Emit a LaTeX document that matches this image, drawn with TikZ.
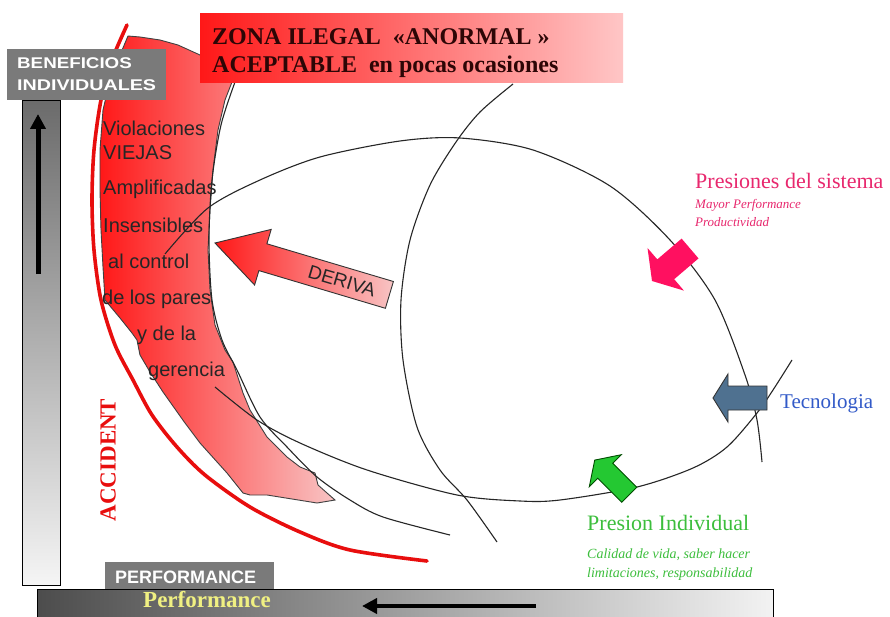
\documentclass[tikz,border=0pt]{standalone}
\usepackage{fontspec}
\setmainfont{Liberation Serif}
\setsansfont{Liberation Sans}
\usepackage{graphicx}
\usetikzlibrary{arrows.meta}

\definecolor{labelgray}{RGB}{122,122,122}
\definecolor{zonered}{RGB}{255,24,24}
\definecolor{zonepink}{RGB}{248,196,196}
\definecolor{boxpink}{RGB}{255,198,198}
\definecolor{accred}{RGB}{232,14,14}
\definecolor{zonatext}{RGB}{45,6,6}
\definecolor{syspink}{RGB}{232,40,110}
\definecolor{arrowpink}{RGB}{255,16,96}
\definecolor{techblue}{RGB}{79,113,144}
\definecolor{techtext}{RGB}{50,90,200}
\definecolor{indgreen}{RGB}{36,200,50}
\definecolor{indtext}{RGB}{60,190,60}
\definecolor{perfyellow}{RGB}{240,240,130}

\begin{document}
\begin{tikzpicture}[x=1pt,y=-1pt,
  curve/.style={draw=black!85, line width=1.1pt},
  zonetxt/.style={anchor=base west, inner sep=0pt, text=black!85,
    font=\sffamily\fontsize{20}{24}\selectfont},
  zonahead/.style={anchor=base west, inner sep=0pt, text=zonatext,
    font=\bfseries\fontsize{24}{28}\selectfont},
  graylabel/.style={fill=labelgray},
  labeltxt/.style={anchor=base west, inner sep=0pt, text=white,
    font=\sffamily\bfseries\fontsize{15.5}{18}\selectfont},
  bigarrow/.style={line width=5pt, -{Triangle[length=15pt,width=15pt]}},
  pressure/.style={anchor=base west, inner sep=0pt, font=\fontsize{22}{26}\selectfont},
  pressnote/.style={anchor=base west, inner sep=0pt, font=\itshape\fontsize{13}{16}\selectfont}
]
\useasboundingbox (0,0) rectangle (890,617);
\fill[white] (0,0) rectangle (890,617);

% ---- axes -------------------------------------------------------------
% vertical bar: individual benefits
\draw[line width=0.8pt, top color=black!58, bottom color=black!4]
  (22,100) rectangle (60,585);
\coordinate (upS) at (38,274);
\coordinate (upE) at (38,114);
\draw[bigarrow] (upS) -- (upE);

% horizontal bar: performance
\fill[graylabel] (105,562) rectangle (274,591);
\node[labeltxt, font=\sffamily\bfseries\fontsize{18}{20}\selectfont] (perflabel)
  at (115,583) {PERFORMANCE};
\draw[line width=0.8pt, left color=black!70, right color=black!5]
  (37,589) rectangle (773,622);
\coordinate (leftS) at (536,606);
\coordinate (leftE) at (362,606);
\draw[bigarrow, line width=4.5pt] (leftS) -- (leftE);
\node[anchor=base west, inner sep=0pt, text=perfyellow,
  font=\bfseries\fontsize{23}{26}\selectfont] (perfword) at (143,607) {Performance};

% ---- accident boundary ------------------------------------------------
\draw[accred, line width=3.6pt, line cap=round] plot[smooth] coordinates {
  (127,25) (112,60) (101,100) (94,150) (92,200) (94,250) (101,300)
  (115,345) (133,380) (152,415) (177,447) (205,475) (250,507)
  (300,532) (350,550) (427,561)};
\node[rotate=90, text=accred, inner sep=0pt,
  font=\bfseries\fontsize{23}{26}\selectfont] (accident) at (108,460) {ACCIDENT};

% ---- illegal zone -----------------------------------------------------
\draw[black!75, line width=0.9pt, left color=zonered, right color=zonepink]
  (128,36) -- (140,37) -- (160,40) -- (178,45) -- (200,55) -- (215,70)
  -- (232,82) -- (225,100) -- (218,130) -- (213,170) -- (210,210)
  -- (208,250) -- (210,290) -- (215,325) -- (225,350) -- (233,362)
  -- (243,393) -- (250,410) -- (267,437) -- (287,457) -- (300,467)
  -- (315,473) -- (318,485) -- (327,493) -- (335,500) -- (317,503)
  -- (267,495) -- (250,495) -- (243,493) -- (227,473) -- (200,443)
  -- (185,423) -- (163,392) -- (150,372) -- (140,355) -- (137,340)
  -- (132,333) -- (120,318) -- (105,300) -- (103,267) -- (101,230)
  -- (100,190) -- (100,150) -- (103,110) -- (110,80) -- (120,55) -- cycle;

\node[zonetxt] (v1) at (103,136) {Violaciones};
\node[zonetxt] (v2) at (103,160) {VIEJAS};
\node[zonetxt] (v3) at (103,195) {Amplificadas};
\node[zonetxt] (v4) at (103,233) {Insensibles};
\node[zonetxt] (v5) at (108,269) {al control};
\node[zonetxt] (v6) at (102,304) {de los pares};
\node[zonetxt] (v7) at (137,340) {y de la};
\node[zonetxt] (v8) at (148,376) {gerencia};

% ---- operating envelope and boundaries ---------------------------------
% upper and right part of the envelope
\draw[curve] plot[smooth] coordinates {
  (165,254) (208,208) (260,180) (320,157) (400,141) (460,138)
  (533,150) (610,186) (670,240) (715,300) (745,375) (757,420) (762,462)};
% lower part of the envelope
\draw[curve] plot[smooth] coordinates {
  (792,360) (773,390) (757,413) (727,447) (693,468) (637,487)
  (560,500) (520,501) (457,495) (367,470) (300,443) (257,420) (215,387)};
% boundary along the zone
\draw[curve] plot[smooth] coordinates {
  (235,82) (221,125) (212,180) (209,240) (212,300) (222,340)
  (237,370) (260,417) (287,447) (317,477) (350,500) (383,517) (450,535)};
% middle boundary
\draw[curve] plot[smooth] coordinates {
  (513,84) (480,112) (456,142) (430,185) (410,240) (401,300)
  (403,360) (417,427) (440,470) (467,500) (497,542)};

% ---- labels on top ------------------------------------------------------
\path[left color=zonered, right color=boxpink] (200,14) rectangle (623,83);
\node[zonahead] (zona1) at (212,45) {ZONA ILEGAL\ \ «ANORMAL\ »};
\node[zonahead] (zona2) at (212,73) {ACEPTABLE\ \ en pocas ocasiones};

\fill[graylabel] (7,49) rectangle (166,100);
\node[labeltxt] (ben1) at (17,69) {\scalebox{1.21}[1]{BENEFICIOS}};
\node[labeltxt] (ben2) at (17,91) {\scalebox{1.27}[1]{INDIVIDUALES}};

% ---- drift arrow --------------------------------------------------------
\draw[black!80, line width=0.9pt, left color=zonered, right color=zonepink]
  (215,243) -- (271.2,229.4) -- (266.9,243.8) -- (393.4,281.5)
  -- (385.4,308.3) -- (258.9,270.6) -- (254.6,285.0) -- cycle;
\node[rotate=-16.6, inner sep=0pt, text=black!85,
  font=\sffamily\fontsize{19}{22}\selectfont] (deriva) at (342,281) {DERIVA};

% ---- pressures ----------------------------------------------------------
\fill[arrowpink]
  (652,281) -- (647.5,248.0) -- (657.3,259.4) -- (681.6,238.6)
  -- (698.5,258.4) -- (674.2,279.2) -- (683.9,290.6) -- cycle;
\node[pressure, text=syspink] (sys) at (695,189) {Presiones del sistema};
\node[pressnote, text=syspink] (sys1) at (695,209) {Mayor Performance};
\node[pressnote, text=syspink] (sys2) at (695,227) {Productividad};

\draw[fill=techblue, draw=black!80, line width=0.9pt]
  (713,398) -- (728,374) -- (728,386) -- (767,386) -- (767,410)
  -- (728,410) -- (728,422) -- cycle;
\node[pressure, text=techtext, font=\fontsize{21}{24}\selectfont] (tech) at (780,408) {Tecnologia};

\draw[fill=indgreen, draw=black!70!green, line width=0.9pt]
  (594.7,460.1) -- (621.3,454.7) -- (612.8,463.2) -- (636.8,487.2)
  -- (621.8,502.2) -- (597.8,478.2) -- (589.3,486.7) -- cycle;
\node[pressure, text=indtext] (ind) at (587,530) {Presion Individual};
\node[pressnote, text=indtext, font=\itshape\fontsize{14}{16}\selectfont] (ind1) at (587,558) {Calidad de vida, saber hacer};
\node[pressnote, text=indtext, font=\itshape\fontsize{14}{16}\selectfont] (ind2) at (587,577) {limitaciones, responsabilidad};
\end{tikzpicture}
\end{document}
